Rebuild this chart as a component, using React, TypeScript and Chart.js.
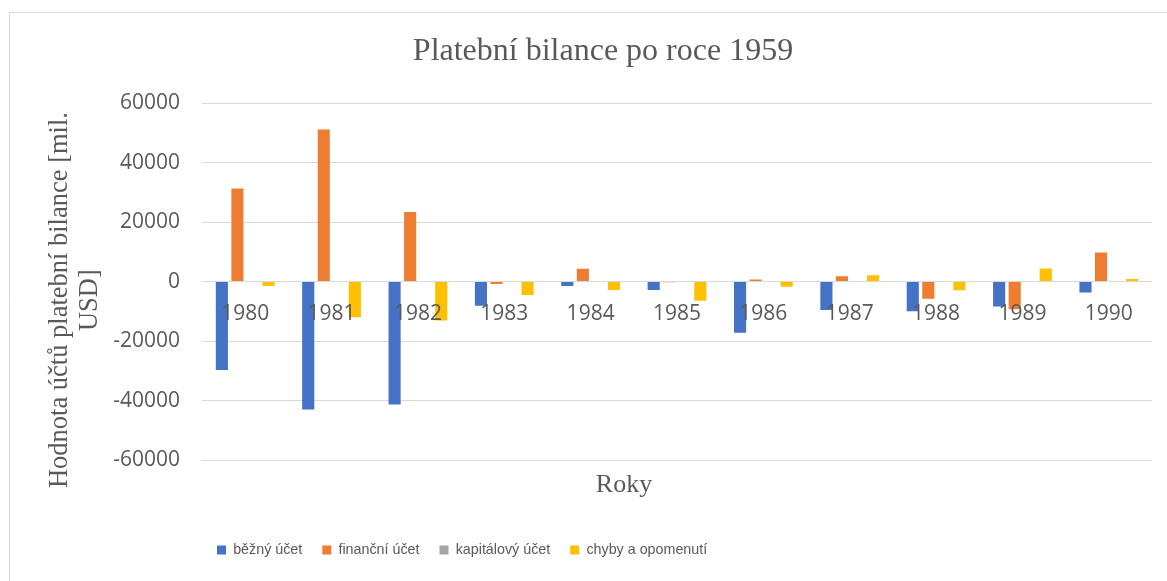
import React, { useEffect, useRef } from "react";
import { Chart, registerables } from "chart.js";

Chart.register(...registerables);

const categories = ["1980", "1981", "1982", "1983", "1984", "1985", "1986", "1987", "1988", "1989", "1990"];
const bezny = [-29700, -43000, -41300, -8100, -1500, -2800, -17200, -9500, -10000, -8400, -3700];
const financni = [31300, 51100, 23400, -800, 4300, -200, 700, 1800, -5800, -9300, 9800];
const kapitalovy = [0, 0, 0, 0, 0, 0, 0, 0, 0, 0, 0];
const chyby = [-1500, -12000, -13100, -4500, -2800, -6400, -1700, 2100, -2900, 4400, 900];

const seriesNames = ["běžný účet", "finanční účet", "kapitálový účet", "chyby a opomenutí"];
const seriesColors = ["#4472C4", "#ED7D31", "#A5A5A5", "#FFC000"];
const yTicks = [60000, 40000, 20000, 0, -20000, -40000, -60000];

const chartTitle = "Platební bilance po roce 1959";
const yTitle = ["Hodnota účtů platební bilance [mil.", "USD]"];
const xTitle = "Roky";

const TEXT = "#595959";
const GRID = "#D9D9D9";
const SERIF = "'Liberation Serif', 'Times New Roman', serif";
const SANS = "'Open Sans', 'Noto Sans', sans-serif";
const LEGEND_FONT = "'Liberation Sans', Arial, sans-serif";

const borderPlugin = {
  id: "outerBorder",
  beforeDraw(chart: any) {
    const ctx = chart.ctx;
    ctx.save();
    ctx.fillStyle = "#ffffff";
    ctx.fillRect(0, 0, chart.width, chart.height);
    ctx.strokeStyle = GRID;
    ctx.lineWidth = 1;
    ctx.beginPath();
    ctx.moveTo(9.5, chart.height + 5);
    ctx.lineTo(9.5, 12.5);
    ctx.lineTo(chart.width + 5, 12.5);
    ctx.stroke();
    ctx.restore();
  },
};

// Excel placed the legend, the chart title and the x-axis title off-centre; move those boxes to match.
const boxShift = {
  id: "boxShift",
  afterLayout(chart: any) {
    const l = chart.legend;
    if (l) {
      const pad = l.options.labels.padding;
      const dx = 217 - (l.left + pad);
      l.left += dx;
      l.right += dx;
    }
    const t = chart.titleBlock;
    if (t) {
      t.left += 22;
      t.right += 22;
    }
    const x2 = chart.scales.x2;
    if (x2) {
      x2.left -= 53;
      x2.right -= 53;
    }
  },
};

// Two-line rotated y-axis title, placed slightly below the plot's centre as in the reference.
const yTitlePlugin = {
  id: "yTitle",
  afterDraw(chart: any) {
    const ctx = chart.ctx;
    const area = chart.chartArea;
    const cy = (area.top + area.bottom) / 2 + 18.5;
    const baselines = [66.7, 97];
    ctx.save();
    ctx.fillStyle = TEXT;
    ctx.font = `26.5px ${SERIF}`;
    ctx.textAlign = "center";
    ctx.textBaseline = "alphabetic";
    yTitle.forEach((line, i) => {
      ctx.save();
      ctx.translate(baselines[i], cy);
      ctx.rotate(-Math.PI / 2);
      ctx.fillText(line, 0, 0);
      ctx.restore();
    });
    ctx.restore();
  },
};

export default function App() {
  const ref = useRef<HTMLCanvasElement | null>(null);
  useEffect(() => {
    if (!ref.current) return;
    const data = [bezny, financni, kapitalovy, chyby];
    const chart = new Chart(ref.current, {
      type: "bar",
      data: {
        labels: categories,
        datasets: seriesNames.map((name, i) => ({
          label: name,
          data: data[i],
          backgroundColor: seriesColors[i],
          borderWidth: 0,
          categoryPercentage: 0.72,
          barPercentage: 0.78,
          xAxisID: "x",
        })),
      },
      options: {
        responsive: false,
        animation: false,
        layout: { padding: { left: 10, right: 15, top: 12, bottom: 13.75 } },
        plugins: {
          tooltip: { enabled: false },
          title: {
            display: true,
            text: chartTitle,
            color: TEXT,
            font: { family: SERIF, size: 32, weight: "normal", lineHeight: 1.2 },
            padding: { top: 20.8, bottom: 31.8 },
          },
          legend: {
            position: "bottom",
            align: "start",
            labels: {
              color: TEXT,
              font: { family: LEGEND_FONT, size: 14.3 },
              boxWidth: 9,
              boxHeight: 9,
              padding: 20,
            },
          },
        },
        scales: {
          x: {
            type: "category",
            position: { y: 0 } as any,
            grid: { display: false, drawTicks: false },
            border: { display: false },
            ticks: { z: 1, color: TEXT, font: { family: SANS, size: 21 }, padding: 20, maxRotation: 0 },
          },
          x2: {
            type: "category",
            labels: categories,
            position: "bottom",
            grid: { display: false, drawTicks: false },
            border: { display: false },
            ticks: { display: false },
            title: {
              display: true,
              text: xTitle,
              color: TEXT,
              font: { family: SERIF, size: 26, lineHeight: 1.2 },
              padding: { top: 9.4, bottom: 22.15 },
            },
          },
          y: {
            min: -60000,
            max: 60000,
            afterBuildTicks(scale: any) {
              scale.ticks = yTicks.map((v) => ({ value: v }));
            },
            afterFit(scale: any) {
              scale.width = 202 - 10;
            },
            grid: { color: GRID, lineWidth: 1, drawTicks: false },
            border: { display: false },
            ticks: {
              color: TEXT,
              font: { family: SANS, size: 21 },
              padding: 22,
              callback: (v: any) => String(v),
            },
            title: { display: false },
          },
        },
      },
      plugins: [borderPlugin, boxShift, yTitlePlugin],
    });
    return () => chart.destroy();
  }, []);
  return (
    <div style={{ position: "absolute", left: 0, top: 0, width: 1167, height: 581 }}>
      <canvas ref={ref} width={1167} height={581} style={{ display: "block" }} />
    </div>
  );
}
